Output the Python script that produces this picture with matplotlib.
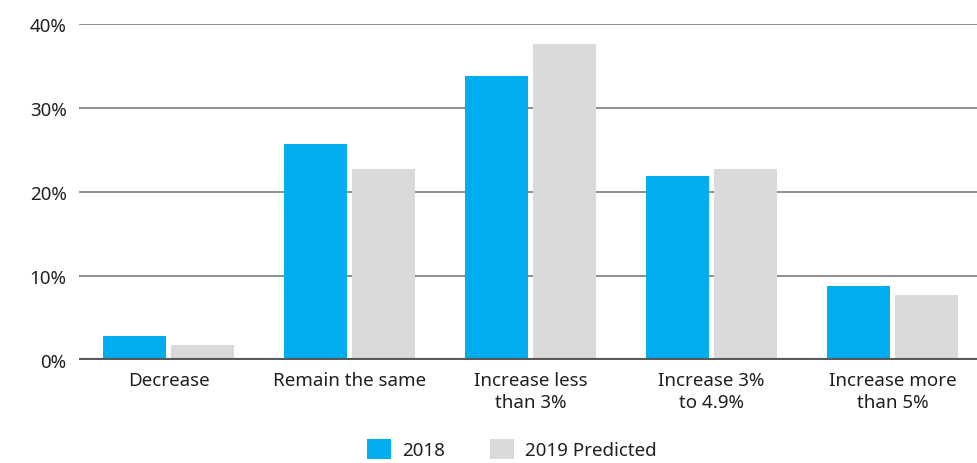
import numpy as np
import matplotlib.pyplot as plt
from matplotlib.ticker import FuncFormatter

# survey categories and shares (%)
categories = ["Decrease", "Remain the same", "Increase less\nthan 3%",
              "Increase 3%\nto 4.9%", "Increase more\nthan 5%"]
share_2018 = [2.9, 25.7, 33.8, 21.9, 8.8]
share_2019 = [1.8, 22.7, 37.6, 22.7, 7.7]
series_names = ["2018", "2019 Predicted"]

BLUE = "#00AEEF"
GREY = "#D9DADB"
TEXT = "#231F20"

plt.rcParams["font.family"] = ["Noto Sans", "DejaVu Sans"]
FS = 13.5

fig = plt.figure(figsize=(9.77, 4.64), dpi=100)
ax = fig.add_axes([0.081, 0.222, 0.919, 0.725])

x = np.arange(len(categories))
w = 0.348
off = 0.188
ax.bar(x - off, share_2018, w, color=BLUE, label=series_names[0], zorder=2)
ax.bar(x + off, share_2019, w, color=GREY, label=series_names[1], zorder=2)

ax.set_xlim(-0.494, 4.467)
ax.set_ylim(0, 40)
ax.set_yticks([0, 10, 20, 30, 40])
ax.yaxis.set_major_formatter(FuncFormatter(lambda v, p: f"{v:.0f}%"))
ax.yaxis.grid(True, color="#6D6E71", linewidth=1.1, zorder=0)
ax.axhline(0, color="#58595B", linewidth=3, zorder=3)

ax.set_xticks(x)
ax.set_xticklabels(categories, linespacing=1.3)
ax.tick_params(axis="both", length=0, colors=TEXT, labelsize=FS)
ax.tick_params(axis="x", pad=8)
ax.tick_params(axis="y", pad=9)
for s in ax.spines.values():
    s.set_visible(False)

fig.legend(loc="lower center", bbox_to_anchor=(0.524, -0.028), ncol=2,
           frameon=False, fontsize=FS, handlelength=1.25, handleheight=1.25,
           handletextpad=0.6, columnspacing=2.4, labelcolor=TEXT)

fig.savefig("out.png", dpi=100)
